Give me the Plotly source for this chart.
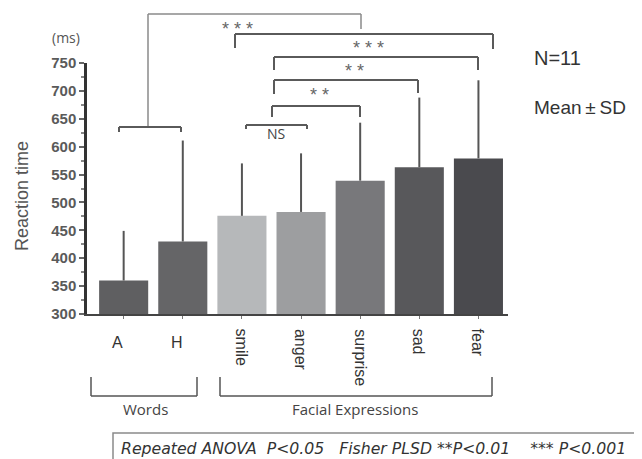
import plotly.graph_objects as go

categories = ["A", "H", "smile", "anger", "surprise", "sad", "fear"]
mean_ms = [360, 430, 476, 483, 539, 563, 579]
sd_ms = [89, 181, 94, 105, 104, 125, 140]
bar_colors = ["#5f5f61", "#656567", "#b6b8ba", "#9d9ea0", "#78787b", "#58585b", "#4a4a4e"]
y_ticks = [300, 350, 400, 450, 500, 550, 600, 650, 700, 750]
rotated_labels = ["smile", "anger", "surprise", "sad", "fear"]

OFF = 8  # page body margin
W, H = 642 - OFF, 459 - OFF
L, T = 87 - OFF, 63 - OFF
R = W - (508 - OFF)
B = H - (314 - OFF)
PW, PH = W - L - R, H - T - B


def px(p):
    return (p - OFF - L) / PW


def py(p):
    return (H - B - (p - OFF)) / PH


fig = go.Figure()
fig.add_trace(go.Bar(
    x=categories, y=[m - 300 for m in mean_ms], base=300,
    marker=dict(color=bar_colors, line=dict(width=0)),
    width=0.83,
    error_y=dict(type="data", symmetric=False, array=sd_ms,
                 arrayminus=[0] * len(sd_ms), width=0, color="#555555", thickness=2),
    showlegend=False,
))

LINE = "#5a5a5a"
shapes = []


def seg(x0, y0, x1, y1, w=2, c=LINE):
    shapes.append(dict(type="line", xref="paper", yref="paper",
                       x0=px(x0), y0=py(y0), x1=px(x1), y1=py(y1),
                       line=dict(color=c, width=w)))


def bracket(x0, x1, y, d0, d1, w=2, c=LINE):
    seg(x0, y, x1, y, w, c)
    seg(x0, y, x0, d0, w, c)
    seg(x1, y, x1, d1, w, c)


# significance brackets (layout decoration)
bracket(148, 361, 14, 127, 29, 1.5, "#8a8a8a")
bracket(235, 493, 34, 48, 49)
bracket(274, 478, 57, 70, 70)
bracket(274, 418, 80, 94, 93)
bracket(272, 360, 106, 117, 117)
bracket(246, 307, 125, 129, 129)
bracket(119, 181, 127, 132, 132)

# group brackets below
bracket(91, 197, 396, 377, 377, 1.5, "#555555")
bracket(220, 492, 396, 377, 377, 1.5, "#555555")

# legend box
shapes.append(dict(type="rect", xref="paper", yref="paper",
                   x0=px(113), x1=px(637), y0=py(433), y1=py(475),
                   line=dict(color="#8a8a8a", width=1.5)))

ann = []
SANS = "Liberation Sans, Arial, sans-serif"
OPEN = "Open Sans, sans-serif"


def text(t, x, y, size=14, color="#444444", family=SANS, xa="center", ya="middle", angle=0):
    ann.append(dict(text=t, xref="paper", yref="paper", x=px(x), y=py(y),
                    xanchor=xa, yanchor=ya, showarrow=False, textangle=angle,
                    borderpad=0,
                    font=dict(size=size, color=color, family=family)))


text("* * *", 237, 29, 18, "#666666")
text("* * *", 368, 48, 18, "#666666")
text("* *", 354, 71, 18, "#666666")
text("* *", 319, 95, 18, "#666666")
text("NS", 276, 134, 14, "#444444", OPEN)
text("(ms)", 66, 37, 14, "#555555", OPEN)
text("Reaction time", 22, 196, 18, "#555555", SANS, angle=-90)
text("N=11", 533, 58, 20, "#333333", SANS, xa="left")
text("Mean\u2009\u00b1\u2009SD", 533, 108, 19, "#333333", SANS, xa="left")
text("Words", 145, 409, 15, "#444444", OPEN)
text("Facial Expressions", 355, 409, 15, "#444444", OPEN)
text("<i>Repeated ANOVA  P&lt;0.05   Fisher PLSD **P&lt;0.01    *** P&lt;0.001</i>",
     120, 448, 15.7, "#333333", "DejaVu Sans, sans-serif", xa="left")

# category labels
for c in categories:
    if c in rotated_labels:
        ann.append(dict(text=c, xref="x", yref="paper", x=c, y=py(327),
                        xanchor="center", yanchor="top", showarrow=False, textangle=90,
                        font=dict(size=16, color="#333333", family=SANS)))
    else:
        ann.append(dict(text=c, xref="x", yref="paper", x=c, y=py(342),
                        xanchor="center", yanchor="middle", showarrow=False,
                        xshift=-6,
                        font=dict(size=16, color="#333333", family=SANS)))

fig.update_layout(
    width=W, height=H,
    margin=dict(l=L, r=R, t=T, b=B),
    paper_bgcolor="white", plot_bgcolor="white",
    shapes=shapes, annotations=ann,
    xaxis=dict(type="category", range=[-0.62, 6.5], showticklabels=False,
               ticks="outside", ticklen=3, tickcolor="#777777",
               showline=True, linecolor="#444444", linewidth=2,
               showgrid=False, zeroline=False, fixedrange=True),
    yaxis=dict(range=[300, 750], tickvals=y_ticks, ticktext=[str(v) for v in y_ticks],
               ticks="outside", ticklen=5, tickcolor="#666666", tickwidth=1.5,
               minor=dict(dtick=25, tick0=0, ticks="outside", ticklen=3, tickcolor="#888888"),
               showline=True, linecolor="#333333", linewidth=2.5,
               showgrid=False, zeroline=False,
               tickfont=dict(size=15, color="#5a5a5a", family="Liberation Sans, Arial",
                             weight="bold"),
               fixedrange=True),
    font=dict(family=SANS),
)

fig.write_html("out.html")
